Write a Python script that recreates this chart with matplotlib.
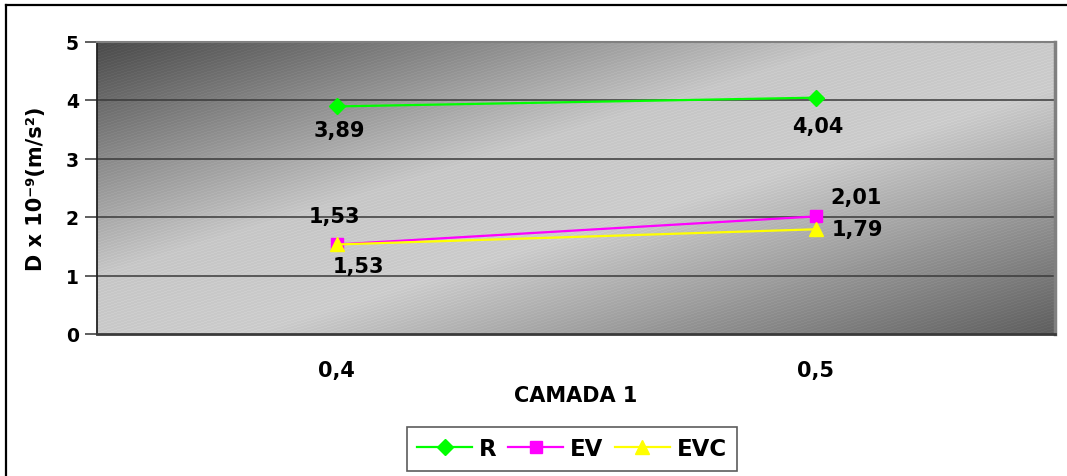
import numpy as np
import matplotlib
matplotlib.use("Agg")
import matplotlib.pyplot as plt
from matplotlib.lines import Line2D
from matplotlib.colors import LinearSegmentedColormap

# Data
categories = ['0,4', '0,5']
series_names = ['R', 'EV', 'EVC']
r_values = [3.89, 4.04]
ev_values = [1.53, 2.01]
evc_values = [1.53, 1.79]

plt.rcParams['font.family'] = ['DejaVu Sans']
plt.rcParams['font.weight'] = 'bold'

fig = plt.figure(figsize=(10.67, 4.77), dpi=100)
fig.patch.set_facecolor('white')

ax = fig.add_axes([97 / 1067, 1 - 335 / 477, 958 / 1067, 292.5 / 477])
x = np.arange(len(categories))

# Gray diagonal gradient with fine stripe texture for the plot area
w, h = 958, 293
xx, yy = np.meshgrid(np.linspace(0, 1, w), np.linspace(0, 1, h))
t = (xx + yy) / 2
grad = LinearSegmentedColormap.from_list(
    'plotarea', [(0.0, '#4a4a4a'), (0.40, '#c6c6c6'), (0.58, '#cbcbcb'),
                 (1.0, '#5e5e5e')])
img = grad(t)[..., :3]
px, py = np.meshgrid(np.arange(w), np.arange(h))
stripes = ((py + 0.3 * px).astype(int) % 3 == 0).astype(float)
img = np.clip(img + 0.025 * stripes[..., None], 0, 1)
ax.imshow(img, extent=[-0.5, 1.5, 0, 5], aspect='auto', zorder=0,
          interpolation='nearest')

# Gridlines
for yv in [1, 2, 3, 4]:
    ax.axhline(yv, color='#3a3a3a', linewidth=1.1, zorder=1)

# Series
ax.plot(x, r_values, color='#00ff00', linewidth=1.6, marker='D',
        markersize=8, zorder=4, label='R')
ax.plot(x, ev_values, color='#ff00ff', linewidth=1.6, marker='s',
        markersize=9, zorder=4, label='EV')
ax.plot(x, evc_values, color='#ffff00', linewidth=1.6, marker='^',
        markersize=10, zorder=5, label='EVC')

# Value labels
def fmt(v):
    return f'{v:.2f}'.replace('.', ',')

label_offsets = {
    'R': [(3, -24), (2, -28)],
    'EV': [(-2, 28), (41, 19)],
    'EVC': [(22, -22), (42, 0)],
}
for name, vals in zip(series_names, [r_values, ev_values, evc_values]):
    for i, v in enumerate(vals):
        ax.annotate(fmt(v), (x[i], v), xytext=label_offsets[name][i],
                    textcoords='offset pixels', ha='center', va='center',
                    fontsize=15, fontweight='bold', zorder=6)

ax.set_xlim(-0.5, 1.5)
ax.set_ylim(0, 5)
ax.set_yticks([0, 1, 2, 3, 4, 5])
ax.set_xticks(x)
ax.set_xticklabels(categories)
ax.tick_params(axis='y', labelsize=13.5, length=9, width=1.1, color='#333333', pad=4)
ax.tick_params(axis='x', labelsize=15, length=0, pad=19)
ax.set_xlabel('CAMADA 1', fontsize=15, fontweight='bold', labelpad=3)
ax.set_ylabel('D x 10\u207b\u2079(m/s\u00b2)', fontsize=15,
              fontweight='bold', labelpad=14)

ax.spines['left'].set_color('#222222')
ax.spines['left'].set_linewidth(1.3)
ax.spines['bottom'].set_color('#3a3a3a')
ax.spines['bottom'].set_linewidth(2)
ax.spines['top'].set_color('#808080')
ax.spines['top'].set_linewidth(1.5)
ax.spines['right'].set_color('#808080')
ax.spines['right'].set_linewidth(2.5)

# Legend
handles, labels = ax.get_legend_handles_labels()
leg = fig.legend(handles, labels, loc='center', ncol=3,
                 bbox_to_anchor=(572 / 1067, 1 - 450 / 477),
                 fontsize=16.5, frameon=True, fancybox=False,
                 edgecolor='#333333', handlelength=2.4, handletextpad=0.3,
                 columnspacing=0.5, borderpad=0.45)
leg.get_frame().set_linewidth(1.2)
for text in leg.get_texts():
    text.set_fontweight('bold')

# Outer chart border (top and left edges)
fig.add_artist(Line2D([6 / 1067, 6 / 1067], [0, 1 - 6 / 477],
                      transform=fig.transFigure, color='black', linewidth=1.6))
fig.add_artist(Line2D([6 / 1067, 1.01], [1 - 6 / 477, 1 - 6 / 477],
                      transform=fig.transFigure, color='black', linewidth=1.6))

fig.savefig('out.png', dpi=100, facecolor='white')
